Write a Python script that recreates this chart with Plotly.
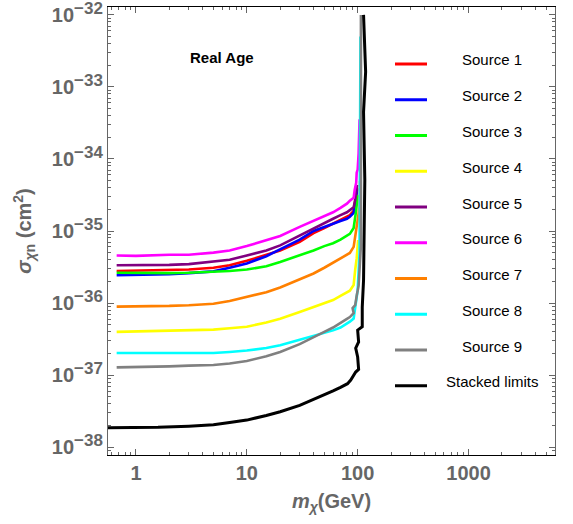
import plotly.graph_objects as go

# ---------------- data ----------------
base_mass = [0.67, 1, 2, 3, 5, 7, 10, 15, 20, 30, 40, 50, 60, 70, 80, 85, 92]

mass_s1 = base_mass + [95, 99]
sigma_s1 = [2.79e-36, 2.82e-36, 2.88e-36, 2.92e-36, 3.09e-36, 3.35e-36, 3.85e-36,
            4.72e-36, 5.37e-36, 7.08e-36, 9.33e-36, 1.10e-35, 1.26e-35, 1.41e-35,
            1.58e-35, 1.66e-35, 1.91e-35, 2.51e-35, 3.98e-35]

mass_s2 = base_mass + [95, 99]
sigma_s2 = [2.43e-36, 2.45e-36, 2.51e-36, 2.60e-36, 2.75e-36, 3.09e-36, 3.55e-36,
            4.47e-36, 5.62e-36, 7.59e-36, 1.00e-35, 1.15e-35, 1.26e-35, 1.38e-35,
            1.48e-35, 1.58e-35, 1.78e-35, 2.40e-35, 3.80e-35]

mass_s3 = base_mass + [95, 97, 100]
sigma_s3 = [2.63e-36, 2.60e-36, 2.60e-36, 2.63e-36, 2.69e-36, 2.79e-36, 2.92e-36,
            3.24e-36, 3.72e-36, 4.57e-36, 5.37e-36, 6.17e-36, 6.76e-36, 7.59e-36,
            8.51e-36, 9.12e-36, 1.10e-35, 1.51e-35, 1.95e-35, 3.16e-35]

mass_s4 = base_mass + [93, 93, 95, 98, 101]
sigma_s4 = [3.98e-37, 4.03e-37, 4.07e-37, 4.12e-37, 4.27e-37, 4.47e-37, 4.68e-37,
            5.37e-37, 6.03e-37, 7.50e-37, 8.81e-37, 9.89e-37, 1.10e-36, 1.26e-36,
            1.41e-36, 1.48e-36, 1.78e-36, 2.09e-36, 2.63e-36, 2.88e-36, 4.20e-36,
            7.50e-36]

mass_s5 = base_mass + [95, 99]
sigma_s5 = [3.34e-36, 3.35e-36, 3.39e-36, 3.47e-36, 3.72e-36, 3.98e-36, 4.57e-36,
            5.37e-36, 6.31e-36, 8.71e-36, 1.07e-35, 1.29e-35, 1.48e-35, 1.66e-35,
            1.82e-35, 1.95e-35, 2.14e-35, 2.69e-35, 4.37e-35]

mass_s6 = base_mass + [94, 97, 98, 100, 102, 104]
sigma_s6 = [4.57e-36, 4.52e-36, 4.68e-36, 4.68e-36, 5.01e-36, 5.37e-36, 6.17e-36,
            7.41e-36, 8.51e-36, 1.14e-35, 1.38e-35, 1.58e-35, 1.82e-35, 2.09e-35,
            2.40e-35, 2.63e-35, 2.88e-35, 3.72e-35, 4.68e-35, 6.46e-35, 7.08e-35,
            1.20e-34, 3.55e-34]

mass_s7 = base_mass + [95, 97, 100, 104, 105]
sigma_s7 = [8.91e-37, 8.91e-37, 9.12e-37, 9.33e-37, 9.77e-37, 1.07e-36, 1.23e-36,
            1.41e-36, 1.64e-36, 2.11e-36, 2.57e-36, 3.09e-36, 3.63e-36, 4.22e-36,
            4.70e-36, 4.95e-36, 6.03e-36, 8.32e-36, 1.15e-35, 1.55e-35, 2.14e-35,
            5.00e-35]

mass_s8 = base_mass + [96, 100, 104, 106]
sigma_s8 = [2.02e-37, 2.02e-37, 2.02e-37, 2.02e-37, 2.02e-37, 2.09e-37, 2.19e-37,
            2.37e-37, 2.60e-37, 3.09e-37, 3.47e-37, 3.80e-37, 4.17e-37, 4.57e-37,
            5.13e-37, 5.50e-37, 6.10e-37, 9.33e-37, 1.51e-36, 5.00e-36, 5.00e-33]

mass_s9 = base_mass + [90, 95, 98, 102, 107, 107]
sigma_s9 = [1.28e-37, 1.29e-37, 1.32e-37, 1.35e-37, 1.38e-37, 1.45e-37, 1.57e-37,
            1.82e-37, 2.09e-37, 2.69e-37, 3.39e-37, 3.98e-37, 4.57e-37, 5.37e-37,
            6.03e-37, 6.38e-37, 7.24e-37, 8.51e-37, 9.33e-37, 1.26e-36, 1.74e-36,
            6.30e-36, 1.00e-32]

mass_stacked = [0.5, 1.58, 3, 5, 7, 10, 15, 20, 30, 40, 50, 60, 70, 81, 86.6, 96,
                102, 100, 96, 102, 100, 110, 110, 113, 116, 113, 118, 113]
sigma_stacked = [1.86e-38, 1.88e-38, 1.95e-38, 2.04e-38, 2.19e-38, 2.37e-38, 2.75e-38,
                 3.09e-38, 3.80e-38, 4.57e-38, 5.25e-38, 6.03e-38, 6.76e-38, 7.59e-38,
                 8.51e-38, 1.10e-37, 1.20e-37, 1.78e-37, 2.37e-37, 2.88e-37, 4.20e-37,
                 4.68e-37, 8.71e-37, 2.09e-36, 5.13e-35, 4.47e-34, 1.62e-33, 1.00e-32]

series_names = ["Source 1", "Source 2", "Source 3", "Source 4", "Source 5",
                "Source 6", "Source 7", "Source 8", "Source 9", "Stacked limits"]
series_colors = ["#FF0000", "#0000FF", "#00FF00", "#FFFF00", "#800080",
                 "#FF00FF", "#FF8000", "#00FFFF", "#808080", "#000000"]
series_mass = [mass_s1, mass_s2, mass_s3, mass_s4, mass_s5, mass_s6, mass_s7,
               mass_s8, mass_s9, mass_stacked]
series_sigma = [sigma_s1, sigma_s2, sigma_s3, sigma_s4, sigma_s5, sigma_s6, sigma_s7,
                sigma_s8, sigma_s9, sigma_stacked]

y_tick_exponents = [-38, -37, -36, -35, -34, -33, -32]
x_tick_values = [1, 10, 100, 1000]
x_tick_labels = ["1", "10", "100", "1000"]

# ---------------- figure ----------------
fig = go.Figure()
for name, color, xs, ys in zip(series_names, series_colors, series_mass, series_sigma):
    fig.add_trace(go.Scatter(
        x=xs, y=ys, mode="lines", name=name, showlegend=False,
        line=dict(color=color, width=3 if name == "Stacked limits" else 2.6),
    ))

GRAY = "#666666"
FAMILY = "Liberation Sans, Arial, sans-serif"
tickfont = dict(family=FAMILY, size=20, color=GRAY, weight="bold")

y_minor = [m * 10.0 ** e for e in range(-39, -31) for m in range(2, 10)]
x_minor = [m * 10.0 ** e for e in range(-1, 4) for m in range(2, 10)]

fig.update_xaxes(
    type="log", range=[-0.252, 3.78], automargin=False,
    tickmode="array", tickvals=x_tick_values, ticktext=x_tick_labels,
    ticks="inside", ticklen=6, tickcolor=GRAY, tickwidth=1,
    minor=dict(tickmode="array", tickvals=x_minor, ticks="inside", ticklen=3,
               tickcolor=GRAY, showgrid=False),
    showline=True, linecolor="black", linewidth=1.2, mirror="allticks",
    showgrid=False, zeroline=False, tickfont=tickfont,
    title=dict(text="<i>m</i><sub><i>χ</i></sub>(GeV)",
               font=dict(family=FAMILY, size=20, color=GRAY, weight="bold"),
               standoff=10),
)
fig.update_yaxes(
    type="log", range=[-38.11, -31.89], automargin=False,
    tickmode="array", tickvals=[10.0 ** e for e in y_tick_exponents],
    ticktext=["10<sup><span style='font-size:17px'>−%d</span></sup>" % (-e)
              for e in y_tick_exponents],
    ticklabeloverflow="allow",
    ticks="inside", ticklen=6, tickcolor=GRAY, tickwidth=1,
    minor=dict(tickmode="array", tickvals=y_minor, ticks="inside", ticklen=3,
               tickcolor=GRAY, showgrid=False),
    showline=True, linecolor=GRAY, linewidth=1.2, mirror="allticks",
    showgrid=False, zeroline=False, tickfont=tickfont,
    title=dict(text="<i>σ</i><sub><i>χ</i>n</sub> (cm<sup>2</sup>)",
               font=dict(family=FAMILY, size=20, color=GRAY, weight="bold"),
               standoff=14),
)

# manual legend (centred labels, as in the reference)
L, R, T, B = 108, 555, 7, 455
W, H = R - L, B - T
def px(x):
    return (x - L) / W
def py(y):
    return 1 - (y - T) / H

shapes = []
annotations = []
for i, (name, color) in enumerate(zip(series_names, series_colors)):
    yrow = 64 + 35.75 * i
    shapes.append(dict(type="line", xref="paper", yref="paper",
                       x0=px(395), x1=px(427), y0=py(yrow), y1=py(yrow),
                       line=dict(color=color, width=3)))
    annotations.append(dict(xref="paper", yref="paper", x=px(492), y=py(yrow - 4),
                            text=name, showarrow=False, xanchor="center", yanchor="middle",
                            font=dict(family=FAMILY, size=15, color="black")))

annotations.append(dict(xref="paper", yref="paper", x=px(222), y=py(57),
                        text="<b>Real Age</b>", showarrow=False, xanchor="center",
                        yanchor="middle", font=dict(family=FAMILY, size=15, color="black")))

fig.update_layout(
    width=573, height=524,
    margin=dict(l=L, r=573 - R, t=T, b=524 - B),
    paper_bgcolor="white", plot_bgcolor="white",
    shapes=shapes, annotations=annotations,
    showlegend=False,
)

fig.write_html("out.html", config={"displayModeBar": False},
               post_script="document.body.style.margin='0';")
